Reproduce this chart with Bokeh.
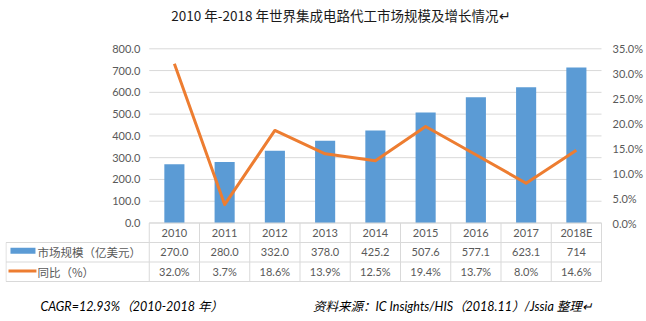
from bokeh.plotting import figure
from bokeh.models import Range1d, LinearAxis, FixedTicker, PrintfTickFormatter
from bokeh.core.properties import value
from bokeh.embed import file_html
from bokeh.resources import INLINE

# ---------------- data ----------------
title_text = "2010 年-2018 年世界集成电路代工市场规模及增长情况↵"
years = ["2010", "2011", "2012", "2013", "2014", "2015", "2016", "2017", "2018E"]
market = [270.0, 280.0, 332.0, 378.0, 425.2, 507.6, 577.1, 623.1, 714]
growth = [32.0, 3.7, 18.6, 13.9, 12.5, 19.4, 13.7, 8.0, 14.6]
series_names = ["市场规模（亿美元）", "同比（%）"]
left_ticks = [0, 100, 200, 300, 400, 500, 600, 700, 800]
right_ticks = [0, 5, 10, 15, 20, 25, 30, 35]
footer_left = "CAGR=12.93%（2010-2018 年）"
footer_right = "资料来源：IC Insights/HIS（2018.11）/Jssia 整理↵"

# ---------------- layout constants (pixels) ----------------
W, H = 646, 321
FRAME_L, FRAME_R = 5, 603
CAT_L, CAT_R = 149, 602
ZERO_Y = 222.5
PX_PER_VAL = 174.2 / 800
PX_PER_PCT = 174.2 / 35
ROW_H = 19.5

n = len(years)
unit = (CAT_R - CAT_L) / n


def xd(px):
    return (px - CAT_L) / unit


def yt(px):
    return -(px - ZERO_Y) / ROW_H


GREY = "#595959"
LINE = "#d9d9d9"
BLUE = "#5b9bd5"
ORANGE = "#ed7d31"
NUM_FONT = value("Lato")
CJK_FONT = value("'Noto Sans CJK SC'")

p = figure(width=W, height=H, output_backend="svg", toolbar_location=None,
           x_range=Range1d(xd(FRAME_L), xd(FRAME_R)),
           y_range=Range1d(-(H - ZERO_Y) / PX_PER_VAL, ZERO_Y / PX_PER_VAL),
           x_axis_location=None, y_axis_location=None,
           min_border_left=FRAME_L, min_border_right=W - FRAME_R,
           min_border_top=0, min_border_bottom=0)
p.extra_y_ranges = {
    "pct": Range1d(-(H - ZERO_Y) / PX_PER_PCT, ZERO_Y / PX_PER_PCT),
    "tbl": Range1d(yt(H), yt(0)),
}
p.outline_line_color = None
p.grid.grid_line_color = None
p.background_fill_color = "white"
p.border_fill_color = "white"

# right axis
ax = LinearAxis(y_range_name="pct", ticker=FixedTicker(ticks=right_ticks),
                formatter=PrintfTickFormatter(format="%.1f%%"))
ax.axis_line_color = None
ax.major_tick_line_color = None
ax.minor_tick_line_color = None
ax.major_tick_in = 0
ax.major_tick_out = 0
ax.major_label_standoff = 10
ax.major_label_text_font = "Lato"
ax.major_label_text_font_size = "11px"
ax.major_label_text_color = GREY
p.add_layout(ax, "right")

# gridlines
p.segment(x0=[0] * len(left_ticks), x1=[n] * len(left_ticks), y0=left_ticks, y1=left_ticks,
          line_color=LINE, line_width=1)

# left tick labels
p.text(x=[0] * len(left_ticks), y=left_ticks, text=[f"{t:.1f}" for t in left_ticks],
       x_offset=-9, text_align="right", text_baseline="middle",
       text_font=NUM_FONT, text_font_size="11px", text_color=GREY)

xs = [i + 0.5 for i in range(n)]

# bars
p.vbar(x=xs, top=market, bottom=0, width=0.4, fill_color=BLUE, line_color=None)

# line
p.line(x=xs, y=growth, y_range_name="pct", line_color=ORANGE, line_width=3, line_join="round")

# ---------------- data table ----------------
left_edge = xd(FRAME_L + 0.5)
hx0 = [0, left_edge, left_edge, left_edge]
hx1 = [n, n, n, n]
hy = [0, -1, -2, -3]
p.segment(x0=hx0, x1=hx1, y0=hy, y1=hy, y_range_name="tbl", line_color=LINE, line_width=1)
vx = list(range(n + 1)) + [left_edge]
vy0 = [0] * (n + 1) + [-1]
vy1 = [-3] * (n + 2)
p.segment(x0=vx, x1=vx, y0=vy0, y1=vy1, y_range_name="tbl", line_color=LINE, line_width=1)

market_labels = [f"{v:.1f}" if isinstance(v, float) else str(v) for v in market]
growth_labels = [f"{v:.1f}%" for v in growth]
for row, labels in enumerate([years, market_labels, growth_labels]):
    p.text(x=xs, y=[-(row + 0.5)] * n, text=labels, y_range_name="tbl",
           text_align="center", text_baseline="middle",
           text_font=NUM_FONT, text_font_size="11px", text_color=GREY)

# legend keys in table
p.rect(x=[xd(22.5)], y=[yt(250.3)], width=25, height=6, width_units="screen",
       height_units="screen", y_range_name="tbl", fill_color=BLUE, line_color=None)
p.segment(x0=[xd(8)], x1=[xd(36)], y0=[yt(270.5)], y1=[yt(270.5)], y_range_name="tbl",
          line_color=ORANGE, line_width=3)
p.text(x=[xd(37)] * 2, y=[-1.5, -2.5], text=series_names, y_range_name="tbl",
       text_align="left", text_baseline="middle",
       text_font=CJK_FONT, text_font_size="11.5px", text_color=GREY)

# title
p.text(x=[xd(341)], y=[yt(14)], text=[title_text], y_range_name="tbl",
       text_align="center", text_baseline="middle",
       text_font=CJK_FONT, text_font_size="13.5px", text_color="#1a1a1a")

# footer
p.text(x=[xd(40)], y=[yt(306)], text=[footer_left], y_range_name="tbl",
       text_align="left", text_baseline="middle", text_font_style="italic",
       text_font=value("Lato, 'Noto Sans CJK SC'"), text_font_size="12.5px", text_color="black")
p.text(x=[xd(313)], y=[yt(306)], text=[footer_right], y_range_name="tbl",
       text_align="left", text_baseline="middle", text_font_style="italic",
       text_font=value("Lato, 'Noto Sans CJK SC'"), text_font_size="12.5px", text_color="black")

open("out.html", "w").write(file_html(p, INLINE))
